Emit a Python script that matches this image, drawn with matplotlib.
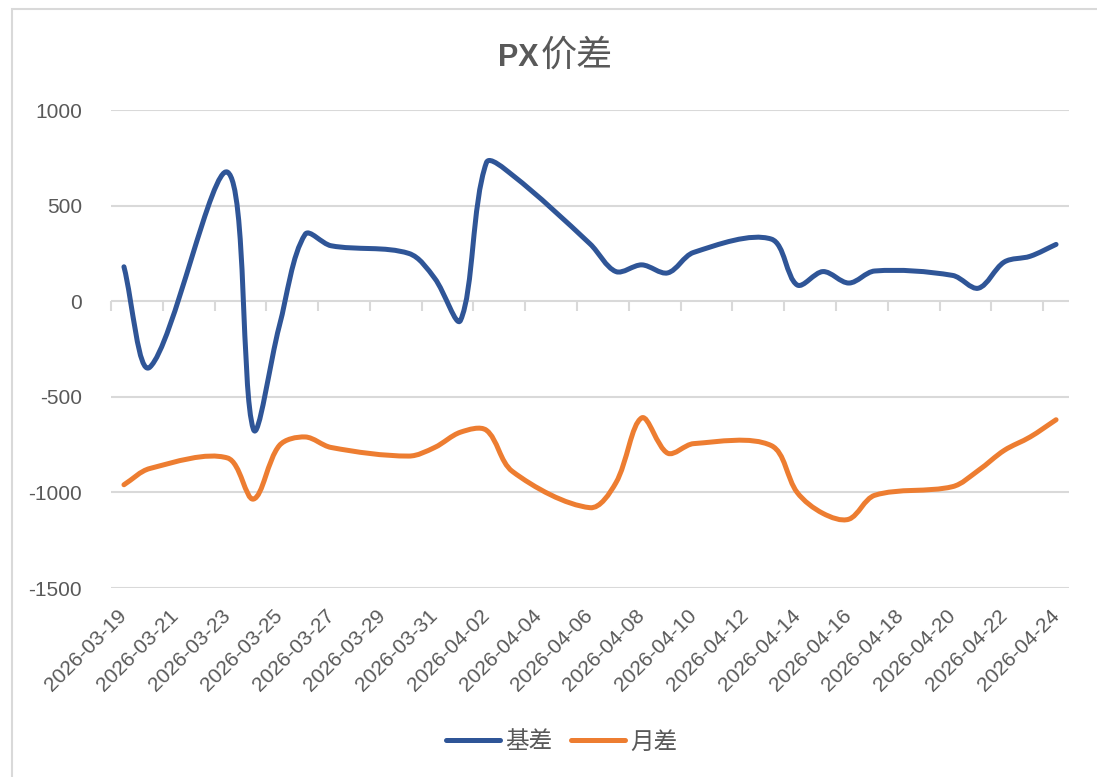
import numpy as np
import pandas as pd
import matplotlib
matplotlib.use("Agg")
import matplotlib.pyplot as plt
import matplotlib.dates as mdates
from matplotlib.path import Path
from matplotlib.patches import PathPatch, Rectangle
from matplotlib.lines import Line2D

# trading days shown in the chart
dates = pd.to_datetime([
    "2026-03-19", "2026-03-20",
    "2026-03-23", "2026-03-24", "2026-03-25", "2026-03-26", "2026-03-27",
    "2026-03-30", "2026-03-31", "2026-04-01", "2026-04-02", "2026-04-03",
    "2026-04-06", "2026-04-07", "2026-04-08", "2026-04-09", "2026-04-10",
    "2026-04-13", "2026-04-14", "2026-04-15", "2026-04-16", "2026-04-17",
    "2026-04-20", "2026-04-21", "2026-04-22", "2026-04-23", "2026-04-24",
])
basis = [180, -345,
         675, -670, -130, 350, 290,
         250, 120, -100, 725, 660,
         300, 155, 190, 148, 255,
         325, 85, 155, 95, 158,
         135, 68, 205, 235, 297]
spread = [-960, -875,
          -820, -1035, -755, -710, -765,
          -810, -765, -685, -675, -890,
          -1080, -950, -610, -795, -745,
          -755, -1000, -1110, -1140, -1015,
          -970, -885, -780, -710, -620]
series_names = ["基差", "月差"]
tick_dates = pd.date_range("2026-03-19", "2026-04-24", freq="2D")
y_ticks = [-1500, -1000, -500, 0, 500, 1000]

BLUE = "#2F5597"
ORANGE = "#ED7D31"
GRID = "#D9D9D9"
TEXT = "#595959"

plt.rcParams["font.family"] = ["Liberation Sans", "Noto Sans CJK SC"]
plt.rcParams["axes.unicode_minus"] = False


def smooth_path(ax, x, y):
    """Excel-style smoothed line: cubic Bezier through every point, control
    arms scaled by neighbouring segment lengths (done in screen space)."""
    to_px = ax.transData
    pts = to_px.transform(np.column_stack([np.asarray(x, float), np.asarray(y, float)]))
    n = len(pts)
    c_in = np.empty_like(pts)
    c_out = np.empty_like(pts)
    for i in range(n):
        prev = pts[max(i - 1, 0)]
        nxt = pts[min(i + 1, n - 1)]
        d = nxt - prev
        l_in = np.hypot(*(pts[i] - prev))
        l_out = np.hypot(*(nxt - pts[i]))
        tot = l_in + l_out
        if tot == 0:
            c_in[i] = c_out[i] = pts[i]
            continue
        c_in[i] = pts[i] - d / 3 * l_in / tot
        c_out[i] = pts[i] + d / 3 * l_out / tot
    verts = [pts[0]]
    codes = [Path.MOVETO]
    for i in range(n - 1):
        verts += [c_out[i], c_in[i + 1], pts[i + 1]]
        codes += [Path.CURVE4] * 3
    verts = to_px.inverted().transform(np.array(verts))
    return Path(verts, codes)


W, H = 1097, 777
fig = plt.figure(figsize=(W / 100, H / 100), dpi=100)
ax = fig.add_axes([111 / W, 1 - 588 / H, (1069 - 111) / W, (588 - 110) / H])

xnum = mdates.date2num(dates)
x0 = xnum[0] - 0.5
x1 = xnum[-1] + 0.5
ax.set_xlim(x0, x1)
ax.set_ylim(-1500, 1000)

for vals, color in ((basis, BLUE), (spread, ORANGE)):
    ax.add_patch(PathPatch(smooth_path(ax, xnum, vals), fill=False, edgecolor=color,
                           lw=3.6, capstyle="round", joinstyle="round", zorder=3))

ax.set_yticks(y_ticks)
ax.grid(axis="y", color=GRID, lw=1.5)
ax.set_axisbelow(True)
for sp in ax.spines.values():
    sp.set_visible(False)

ax.set_xticks(mdates.date2num(tick_dates))
ax.set_xticklabels(tick_dates.strftime("%Y-%m-%d"))
ax.tick_params(axis="x", length=0, pad=18, labelsize=15, labelcolor=TEXT)
for lbl in ax.get_xticklabels():
    lbl.set_rotation(45)
    lbl.set_ha("right")
    lbl.set_va("center")
    lbl.set_rotation_mode("anchor")
ax.tick_params(axis="y", length=0, pad=21, labelsize=15, labelcolor=TEXT)

# small tick marks hanging from the zero line, at 2-day boundaries
sec = ax.secondary_xaxis(0, transform=ax.transData)
sec.set_xticks(np.arange(x0, x1, 2))
sec.tick_params(length=7, width=1.5, color=GRID, direction="out", labelbottom=False)
for sp in sec.spines.values():
    sp.set_visible(False)

# title: bold latin + regular CJK
ty = 1 - 66 / H
fig.text(539 / W, ty, "PX", fontsize=22, fontweight="bold", color=TEXT,
         ha="right", va="baseline", family="Liberation Sans")
fig.text(541 / W, ty, "价差", fontsize=26, color=TEXT, ha="left", va="baseline",
         family="Noto Sans CJK SC")

handles = [Line2D([], [], color=BLUE, lw=3.6, solid_capstyle="round"),
           Line2D([], [], color=ORANGE, lw=3.6, solid_capstyle="round")]
fig.legend(handles, series_names, loc="center", bbox_to_anchor=(0.512, 1 - 742 / H),
           ncol=2, frameon=False, handlelength=2.3, handletextpad=0.2,
           columnspacing=0.8, prop={"family": "Noto Sans CJK SC", "size": 17},
           labelcolor=TEXT)

# chart-area border (only top/left edges are inside the image)
fig.add_artist(Rectangle((12 / W, -0.1), 1.2, 1.1 - 9 / H, transform=fig.transFigure,
                         fill=False, edgecolor=GRID, lw=1.5))

fig.savefig("out.png", dpi=100)
